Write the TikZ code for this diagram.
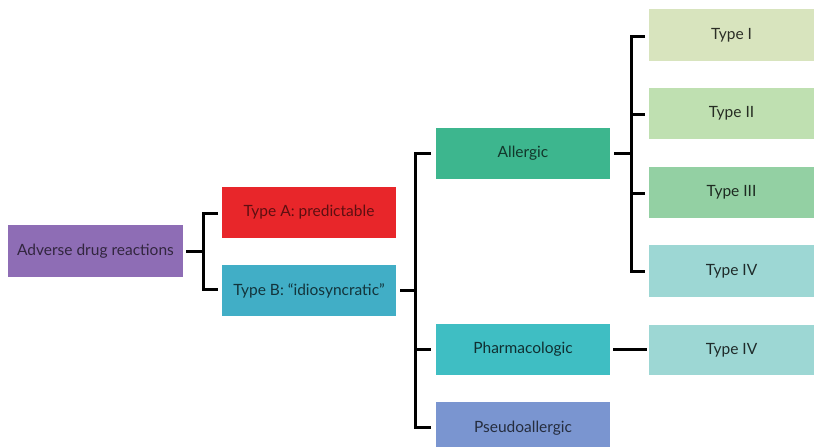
\documentclass[tikz,border=0pt]{standalone}
\usepackage{fontspec}
\setmainfont{Lato}
\definecolor{cRoot}{HTML}{8E6DB5}
\definecolor{cA}{HTML}{E8262A}
\definecolor{cB}{HTML}{41AEC6}
\definecolor{cAll}{HTML}{3DB68E}
\definecolor{cPh}{HTML}{3FBEC3}
\definecolor{cPs}{HTML}{7A95D0}
\definecolor{cT1}{HTML}{D8E4BE}
\definecolor{cT2}{HTML}{BFE0B1}
\definecolor{cT3}{HTML}{93D0A3}
\definecolor{cT4}{HTML}{9DD7D4}
\begin{document}
\begin{tikzpicture}[x=1pt,y=-1pt,
  box/.style={draw=none,inner sep=0pt,font=\fontsize{15.5}{18}\selectfont},
  link/.style={line width=3pt,black}]
\useasboundingbox (0,0) rectangle (814,447);
\fill[white] (0,0) rectangle (814,447);
% boxes
\fill[cRoot] (8,225) rectangle (183,277);
\node[box,text=cRoot!35!black] (root) at (95.5,251) {Adverse drug reactions};
\fill[cA] (222,187) rectangle (396,238);
\node[box,text=cA!40!black] (ta) at (309,212.5) {Type A: predictable};
\fill[cB] (222,265) rectangle (396,316);
\node[box,text=cB!30!black] (tb) at (309,290.5) {Type B: ``idiosyncratic''};
\fill[cAll] (436,128) rectangle (610,179);
\node[box,text=cAll!30!black] (al) at (523,153.5) {Allergic};
\fill[cPh] (436,324) rectangle (610,375);
\node[box,text=cPh!25!black] (ph) at (523,349.5) {Pharmacologic};
\fill[cPs] (436,402) rectangle (610,447);
\node[box,text=cPs!30!black] (ps) at (523,428) {Pseudoallergic};
\fill[cT1] (649,9) rectangle (814,61);
\node[box,text=cT1!20!black] (t1) at (731.5,35) {Type I};
\fill[cT2] (649,88) rectangle (814,139);
\node[box,text=cT2!20!black] (t2) at (731.5,113.5) {Type II};
\fill[cT3] (649,167) rectangle (814,218);
\node[box,text=cT3!20!black] (t3) at (731.5,192.5) {Type III};
\fill[cT4] (649,245) rectangle (814,297);
\node[box,text=cT4!20!black] (t4) at (731.5,271) {Type IV};
\fill[cT4] (649,325) rectangle (814,375);
\node[box,text=cT4!20!black] (t4b) at (731.5,350) {Type IV};
% connectors
\coordinate (r1) at (186,251);
\coordinate (b1) at (203,251);
\draw[link] (r1) -- (b1);
\draw[link] (218,213) -- (203,213) -- (203,289) -- (218,289);
\coordinate (r2) at (400,290);
\coordinate (b2) at (415,290);
\draw[link] (r2) -- (b2);
\draw[link] (431,153) -- (415,153) -- (415,427) -- (431,427);
\draw[link] (415,349) -- (431,349);
\coordinate (r3) at (614,153);
\coordinate (b3) at (631,153);
\draw[link] (r3) -- (b3);
\draw[link] (645,36) -- (631,36) -- (631,271) -- (645,271);
\draw[link] (631,114) -- (645,114);
\draw[link] (631,193) -- (645,193);
\coordinate (r4) at (613,349);
\coordinate (b4) at (647,349);
\draw[link] (r4) -- (b4);
\end{tikzpicture}
\end{document}
